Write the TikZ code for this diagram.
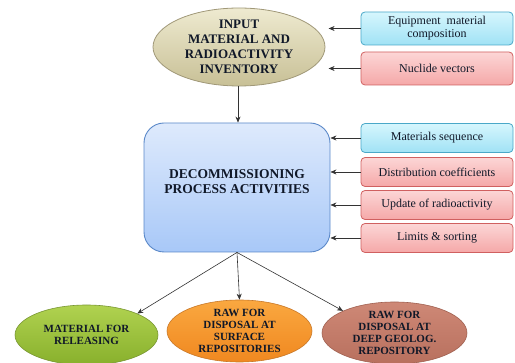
\documentclass[tikz,border=0pt]{standalone}
\usepackage{fontspec}
\setmainfont{Liberation Serif}
\usetikzlibrary{shapes.geometric,arrows.meta}
\definecolor{cyanb}{HTML}{4AA8C8}
\definecolor{pinkb}{HTML}{D06060}
\definecolor{blueb}{HTML}{5A88C8}
\definecolor{txt}{HTML}{101828}
\tikzset{
  x=1pt,y=-1pt,
  arr/.style={-{Stealth[length=6pt,width=5pt]},line width=0.6pt,black!80},
  sidebox/.style={rectangle,rounded corners=4pt,minimum width=152pt,minimum height=29pt,inner sep=1pt,font=\fontsize{12}{13}\selectfont,align=center,line width=0.8pt,text=txt},
  cyanbox/.style={sidebox,draw=cyanb,top color={rgb,255:red,214;green,246;blue,253},bottom color={rgb,255:red,160;green,226;blue,245}},
  pinkbox/.style={sidebox,draw=pinkb,top color={rgb,255:red,252;green,214;blue,214},bottom color={rgb,255:red,245;green,168;blue,168}},
  oval/.style={ellipse,inner sep=0pt,align=center,font=\bfseries\fontsize{11}{12}\selectfont,line width=0.6pt,text=txt},
}
\begin{document}
\begin{tikzpicture}
\useasboundingbox (0,0) rectangle (515,363);
\node[ellipse,inner sep=0pt,minimum width=172pt,minimum height=78pt,draw={rgb,255:red,160;green,152;blue,120},line width=0.8pt,top color={rgb,255:red,238;green,234;blue,208},bottom color={rgb,255:red,200;green,192;blue,150},align=center,font=\bfseries\fontsize{13}{15}\selectfont,text=txt] (inp) at (239,47) {INPUT\\MATERIAL AND\\RADIOACTIVITY\\INVENTORY};
\node[cyanbox] (eq) at (437,28.5) [minimum height=33pt] {Equipment\ \ material\\composition};
\node[pinkbox] (nuc) at (437,68.5) [minimum height=33pt] {Nuclide vectors};
\node[rectangle,rounded corners=20pt,minimum width=186pt,minimum height=129pt,draw=blueb,line width=0.9pt,top color={rgb,255:red,222;green,234;blue,252},bottom color={rgb,255:red,168;green,200;blue,248},
  label={[yshift=6pt,align=center,font=\bfseries\fontsize{13.5}{15}\selectfont,text=txt]center:DECOMMISSIONING\\PROCESS ACTIVITIES}] (proc) at (237,187.5) {};
\node[cyanbox] (ms) at (437,138) {Materials sequence};
\node[pinkbox] (dc) at (437,172) {Distribution coefficients};
\node[pinkbox] (up) at (437,205) {Update of radioactivity};
\node[pinkbox] (ls) at (437,238) {Limits \& sorting};
\node[oval,minimum width=143pt,minimum height=60pt,draw={rgb,255:red,120;green,150;blue,50},top color={rgb,255:red,176;green,210;blue,80},bottom color={rgb,255:red,136;green,176;blue,44}] (gr) at (86.5,335) {MATERIAL FOR\\RELEASING};
\node[oval,minimum width=145pt,minimum height=62pt,draw={rgb,255:red,200;green,120;blue,40},top color={rgb,255:red,250;green,168;blue,64},bottom color={rgb,255:red,240;green,136;blue,32}] (or) at (239.5,331) {RAW FOR\\DISPOSAL AT\\SURFACE\\REPOSITORIES};
\node[oval,minimum width=145pt,minimum height=62pt,draw={rgb,255:red,160;green,96;blue,80},top color={rgb,255:red,206;green,136;blue,118},bottom color={rgb,255:red,184;green,112;blue,94}] (br) at (394.5,333) {RAW FOR\\DISPOSAL AT\\DEEP GEOLOG.\\REPOSITORY};
\draw[arr] (eq.west) -- ++(-32,0);
\draw[arr] (nuc.west) -- ++(-32,0);
\draw[arr] (inp.south -| 238,0) -- (proc.north -| 238,0);
\foreach \b in {ms,dc,up,ls} \draw[arr] (\b.west) -- (\b.west -| proc.east);
\draw[arr] (proc.south) -- (gr.north east);
\draw[arr] (proc.south) -- (or.north);
\draw[arr] (proc.south) -- (br.north west);
\end{tikzpicture}
\end{document}
